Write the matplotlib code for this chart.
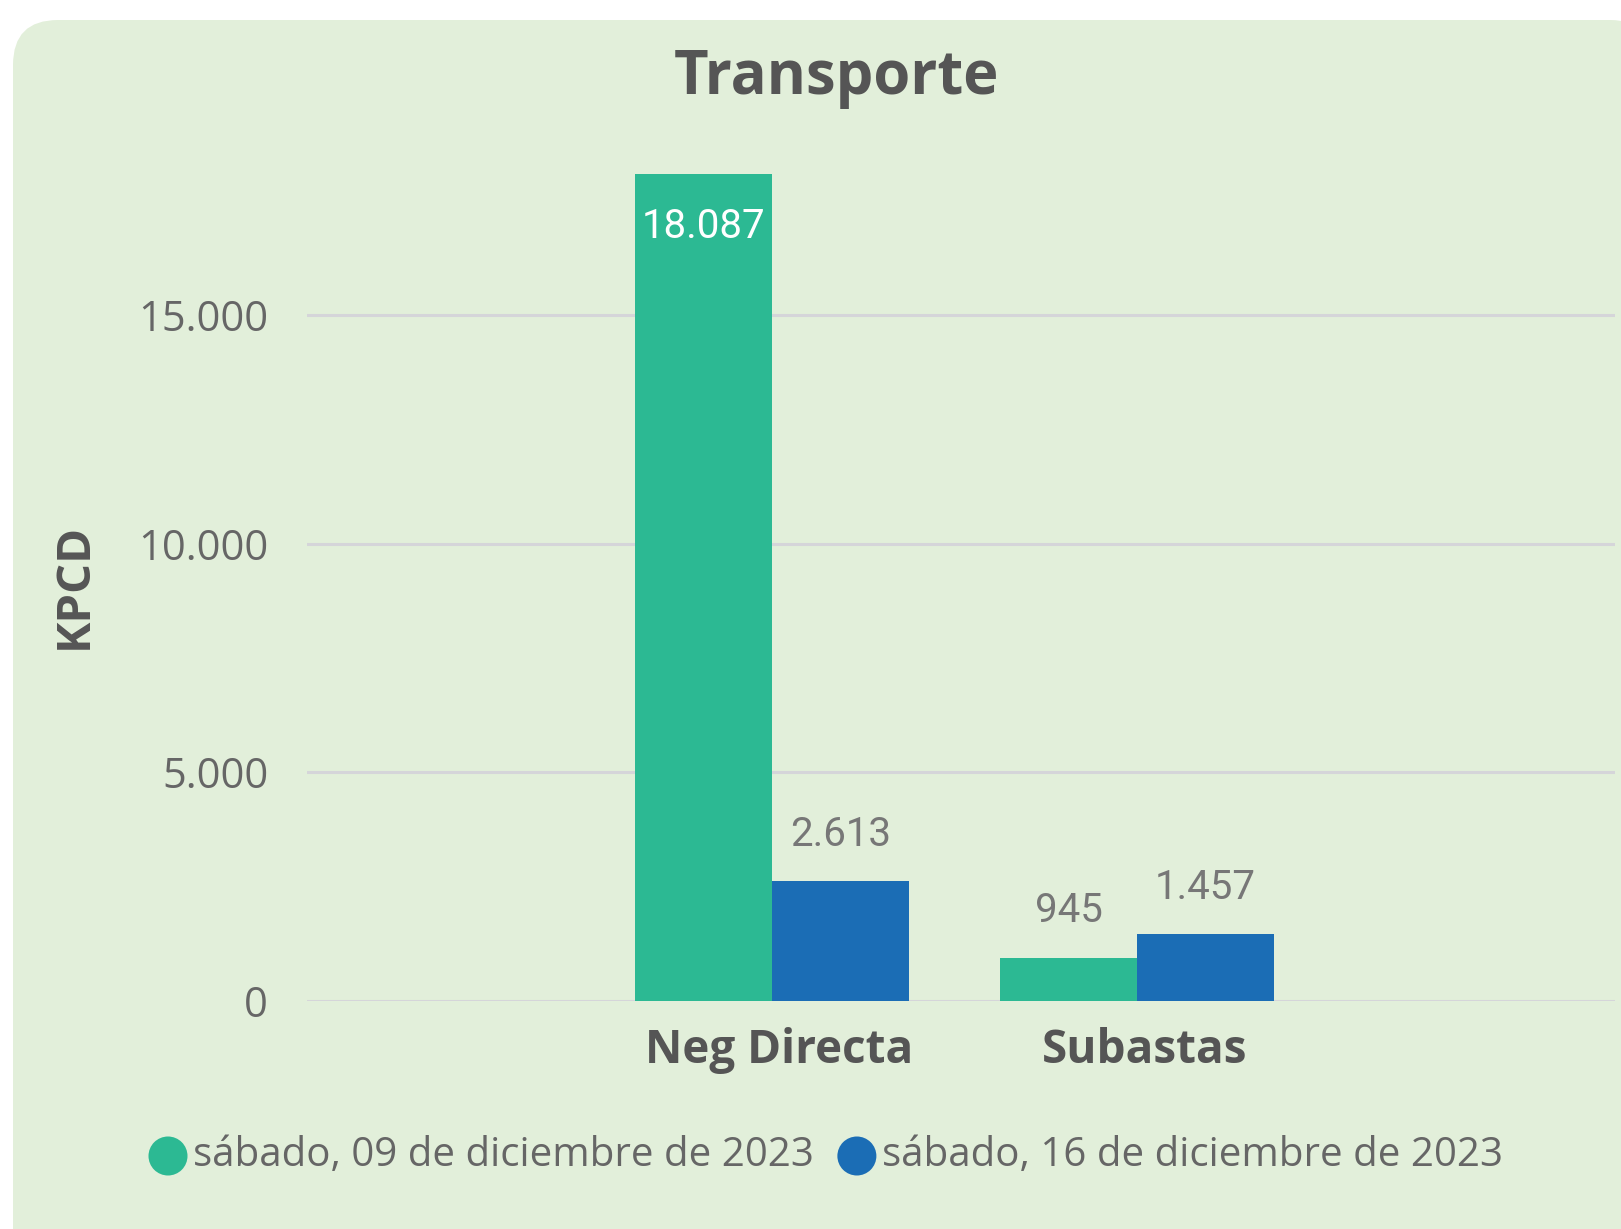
import numpy as np
import matplotlib
matplotlib.use('Agg')
import matplotlib.pyplot as plt
from matplotlib.patches import FancyBboxPatch, Circle

# data
categories = ['Neg Directa', 'Subastas']
series_labels = ['sábado, 09 de diciembre de 2023', 'sábado, 16 de diciembre de 2023']
values_09 = [18087, 945]
values_16 = [2613, 1457]
yticks = [0, 5000, 10000, 15000]

GREEN = '#2CB993'
BLUE = '#1B6DB5'
BG = '#E2EFDA'
DARK = '#555555'
GREY = '#666666'

plt.rcParams['font.family'] = ['Open Sans', 'DejaVu Sans']


def fmt(v):
    return f"{v:,}".replace(',', '.')


def make_bar_plot():
    fig = plt.figure(figsize=(16.21, 12.29), dpi=100)
    fig.patch.set_facecolor('white')

    # rounded card background
    card = FancyBboxPatch((0.13, -0.6), 16.42, 12.69,
                          boxstyle='round,pad=0,rounding_size=0.45',
                          transform=fig.dpi_scale_trans,
                          facecolor=BG, edgecolor='none', zorder=-5)
    fig.patches.append(card)

    ax = fig.add_axes([0.1894, 0.1855, 0.8069, 0.7258])
    ax.set_facecolor('none')

    x = np.arange(len(categories))
    w = 0.375
    b1 = ax.bar(x - w / 2, values_09, w, color=GREEN, zorder=3)
    b2 = ax.bar(x + w / 2, values_16, w, color=BLUE, zorder=3)

    ymax = 19500
    for bars, vals in ((b1, values_09), (b2, values_16)):
        for r, v in zip(bars, vals):
            cx = r.get_x() + r.get_width() / 2
            if v > 0.8 * ymax:
                ax.annotate(fmt(v), (cx, v), xytext=(0, -38), textcoords='offset points',
                            ha='center', va='center', fontsize=29, color='white',
                            family='Roboto', zorder=4)
            else:
                ax.annotate(fmt(v), (cx, v), xytext=(0, 34), textcoords='offset points',
                            ha='center', va='center', fontsize=29, color='#777777',
                            family='Roboto', zorder=4)

    ax.set_xlim(-1.274, 2.31)
    ax.set_ylim(0, ymax)
    ax.set_yticks(yticks)
    ax.set_yticklabels([fmt(t) for t in yticks], fontsize=30, color=GREY)
    # category labels sit a touch right of the group centre in the original
    ax.set_xticks(x + 0.02)
    ax.set_xticklabels(categories, fontsize=33, fontweight='bold', color=DARK)
    ax.tick_params(axis='y', length=0, pad=28)
    ax.tick_params(axis='x', length=0, pad=19)
    for s in ax.spines.values():
        s.set_visible(False)
    ax.yaxis.grid(True, color='#D5D5D9', linewidth=2.2, zorder=1)
    ax.set_axisbelow(True)

    ax.set_ylabel('KPCD', fontsize=34, fontweight='bold', color=DARK)
    ax.yaxis.set_label_coords(-0.16, 0.465)

    fig.text(0.5163, 0.936, 'Transporte', ha='center', va='center',
             fontsize=43, fontweight='bold', color=DARK)

    # legend drawn by hand: circle + text
    fig.canvas.draw()
    renderer = fig.canvas.get_renderer()
    H = 12.29
    ly = (1229 - 1156) / 100.0
    lx = 1.68
    for lab, col in zip(series_labels, [GREEN, BLUE]):
        fig.patches.append(Circle((lx, ly), 0.195, transform=fig.dpi_scale_trans,
                                  facecolor=col, edgecolor='none'))
        t = fig.text((lx + 0.25) / 16.21, ly / H, lab, ha='left', va='center',
                     fontsize=29, color=GREY)
        bb = t.get_window_extent(renderer)
        lx = bb.x1 / 100.0 + 0.43

    plt.savefig('out.png', dpi=100, facecolor=fig.get_facecolor())


if __name__ == "__main__":
    make_bar_plot()
